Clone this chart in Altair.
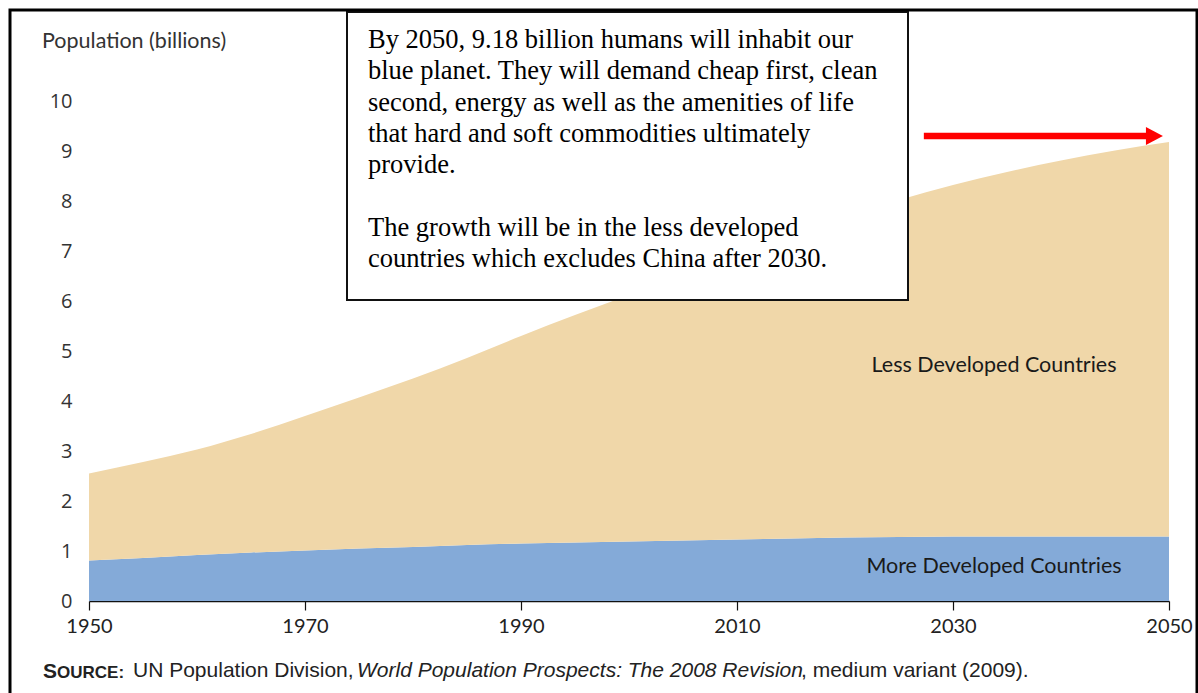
import altair as alt
import pandas as pd

# ---- data (UN WPP 2008, medium variant; billions) ----
years = [1950, 1955, 1960, 1965, 1970, 1975, 1980, 1985, 1990, 1995, 2000,
         2005, 2010, 2015, 2020, 2025, 2030, 2035, 2040, 2045, 2050]
total = [2.55, 2.78, 3.03, 3.34, 3.70, 4.07, 4.45, 4.86, 5.30, 5.72, 6.12,
         6.52, 6.91, 7.30, 7.68, 8.02, 8.32, 8.58, 8.81, 9.01, 9.18]
more_dev = [0.81, 0.86, 0.92, 0.97, 1.01, 1.05, 1.08, 1.12, 1.15, 1.17, 1.19,
            1.21, 1.23, 1.25, 1.27, 1.28, 1.29, 1.29, 1.29, 1.29, 1.29]
less_dev = [round(t - m, 3) for t, m in zip(total, more_dev)]

series_names = ["More Developed Countries", "Less Developed Countries"]
series_colors = ["#84AAD8", "#F0D7A9"]

x_ticks = [1950, 1970, 1990, 2010, 2030, 2050]
y_ticks = list(range(0, 11))

label_text = ["Less Developed Countries", "More Developed Countries"]
label_year = [2033.8, 2033.8]
label_value = [4.7, 0.68]

arrow_year = [2027.3, 2048.2]
arrow_value = [9.3, 9.3]
arrow_tip_year = [2048.65]

note_para1 = [
    "By 2050, 9.18 billion humans will inhabit our",
    "blue planet. They will demand cheap first, clean",
    "second, energy as well as the amenities of life",
    "that hard and soft commodities ultimately",
    "provide.",
]
note_para2 = [
    "The growth will be in the less developed",
    "countries which excludes China after 2030.",
]

# ---- tables ----
rows = []
for i, y in enumerate(years):
    rows.append({"year": y, "series": series_names[0], "ord": 0, "value": more_dev[i]})
    rows.append({"year": y, "series": series_names[1], "ord": 1, "value": less_dev[i]})
df = pd.DataFrame(rows)

labels_df = pd.DataFrame({"year": label_year, "value": label_value, "text": label_text})
arrow_df = pd.DataFrame({"year": arrow_year, "value": arrow_value})
tip_df = pd.DataFrame({"year": arrow_tip_year, "value": [arrow_value[0]]})
one = pd.DataFrame({"k": [0]})

W, H = 1080, 500
LEFT, TOP = 89, 101

xscale = alt.Scale(domain=[1950, 2050], nice=False, zero=False)
yscale = alt.Scale(domain=[0, 10], nice=False)

xax = alt.Axis(values=x_ticks, format="d", title=None, grid=False,
               domainColor="#111", domainWidth=1.5, tickColor="#111", tickSize=9,
               tickWidth=1.2, labelFont="Lato", labelFontSize=20, labelColor="#222",
               labelPadding=6, labelFlush=False)
yax = alt.Axis(values=y_ticks, title=None, grid=False, domain=False, ticks=False,
               labelFont="Open Sans", labelFontSize=20, labelColor="#333", labelPadding=17)

area = alt.Chart(df).mark_area(interpolate="monotone").encode(
    x=alt.X("year:Q", scale=xscale, axis=xax),
    y=alt.Y("value:Q", scale=yscale, axis=yax, stack="zero"),
    color=alt.Color("series:N", scale=alt.Scale(domain=series_names, range=series_colors), legend=None),
    order=alt.Order("ord:Q"),
)

area_labels = alt.Chart(labels_df).mark_text(
    font="Lato", fontSize=21.5, color="#1a1a1a", align="center", baseline="middle"
).encode(x=alt.X("year:Q", scale=xscale), y=alt.Y("value:Q", scale=yscale), text="text:N")

frame = alt.Chart(one).mark_rect(fillOpacity=0, stroke="black", strokeWidth=3).encode(
    x=alt.value(10 - LEFT), x2=alt.value(1197 - LEFT),
    y=alt.value(10 - TOP), y2=alt.value(720 - TOP))

box = alt.Chart(one).mark_rect(fill="white", stroke="#111", strokeWidth=2).encode(
    x=alt.value(347 - LEFT), x2=alt.value(908 - LEFT),
    y=alt.value(12 - TOP), y2=alt.value(300 - TOP))

note1 = alt.Chart(one).mark_text(
    font="Liberation Serif", fontSize=26.5, color="black", align="left",
    baseline="alphabetic", lineHeight=31.3
).encode(x=alt.value(368 - LEFT), y=alt.value(48 - TOP), text=alt.value(note_para1))

note2 = alt.Chart(one).mark_text(
    font="Liberation Serif", fontSize=26.5, color="black", align="left",
    baseline="alphabetic", lineHeight=31.3
).encode(x=alt.value(368 - LEFT), y=alt.value(48 + 6 * 31.3 - TOP), text=alt.value(note_para2))

arrow = alt.Chart(arrow_df).mark_line(color="#FF0000", strokeWidth=6.5).encode(
    x=alt.X("year:Q", scale=xscale), y=alt.Y("value:Q", scale=yscale))

tip = alt.Chart(tip_df).mark_point(
    shape="M-1,-1.06L1,0L-1,1.06Z", size=289, filled=True, color="#FF0000", opacity=1
).encode(x=alt.X("year:Q", scale=xscale), y=alt.Y("value:Q", scale=yscale))

ytitle = alt.Chart(one).mark_text(
    font="Lato", fontSize=21.5, color="#333", align="left", baseline="middle"
).encode(x=alt.value(42 - LEFT), y=alt.value(42 - TOP), text=alt.value("Population (billions)"))

src_y = 671 - TOP
src_s = alt.Chart(one).mark_text(font="Liberation Sans", fontSize=21, fontWeight="bold", color="#222",
                                 align="left", baseline="alphabetic").encode(
    x=alt.value(43 - LEFT), y=alt.value(src_y + 7), text=alt.value("S"))
src_ource = alt.Chart(one).mark_text(font="Liberation Sans", fontSize=17, fontWeight="bold", color="#222",
                                     align="left", baseline="alphabetic").encode(
    x=alt.value(57 - LEFT), y=alt.value(src_y + 7), text=alt.value("OURCE:"))
src_1 = alt.Chart(one).mark_text(font="Liberation Sans", fontSize=21, color="#222",
                                 align="left", baseline="middle").encode(
    x=alt.value(133 - LEFT), y=alt.value(src_y), text=alt.value("UN Population Division,"))
src_2 = alt.Chart(one).mark_text(font="Liberation Sans", fontSize=21, fontStyle="italic", color="#222",
                                 align="left", baseline="middle").encode(
    x=alt.value(357 - LEFT), y=alt.value(src_y),
    text=alt.value("World Population Prospects: The 2008 Revision"))
src_3 = alt.Chart(one).mark_text(font="Liberation Sans", fontSize=21, color="#222",
                                 align="left", baseline="middle").encode(
    x=alt.value(801 - LEFT), y=alt.value(src_y), text=alt.value(", medium variant (2009)."))

chart = alt.layer(
    area, area_labels, box, note1, note2, arrow, tip, ytitle,
    src_s, src_ource, src_1, src_2, src_3, frame
).properties(
    width=W, height=H,
    autosize=alt.AutoSizeParams(type="none"),
    padding={"left": LEFT, "top": TOP, "right": 1198 - LEFT - W, "bottom": 693 - TOP - H},
    background="white",
).configure_view(stroke=None)

chart.save("out.html", embed_options={"renderer": "svg", "actions": False})
